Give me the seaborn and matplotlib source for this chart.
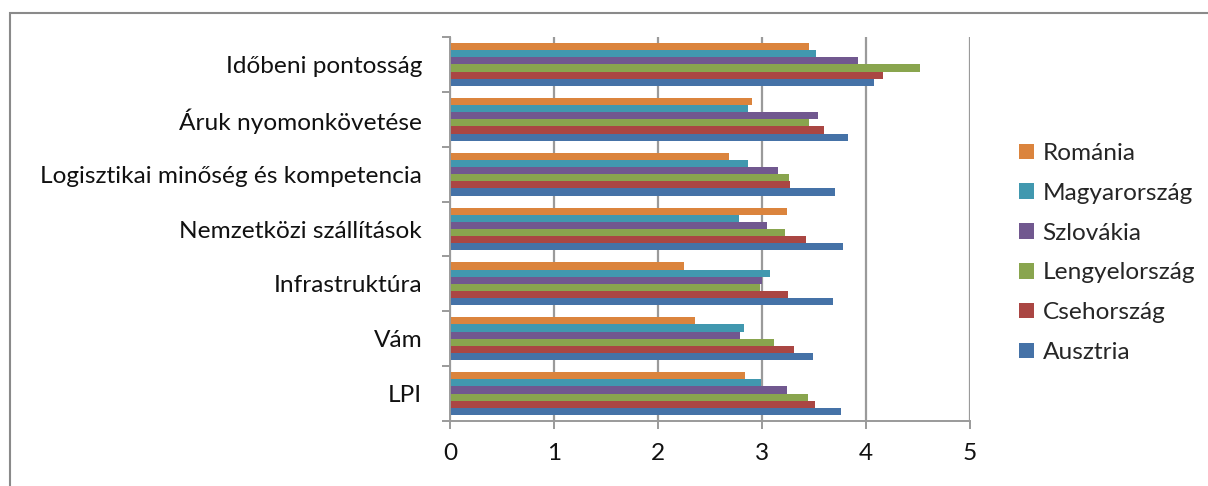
import matplotlib
matplotlib.use("Agg")
import matplotlib.pyplot as plt
import matplotlib.patches as mpatches
from matplotlib.ticker import FixedLocator
import seaborn as sns
import pandas as pd

# LPI component scores per country
categories = [
    "Időbeni pontosság",
    "Áruk nyomonkövetése",
    "Logisztikai minőség és kompetencia",
    "Nemzetközi szállítások",
    "Infrastruktúra",
    "Vám",
    "LPI",
]
countries = ["Románia", "Magyarország", "Szlovákia", "Lengyelország", "Csehország", "Ausztria"]

romania = [3.45, 2.90, 2.68, 3.24, 2.25, 2.36, 2.84]
magyarorszag = [3.52, 2.87, 2.87, 2.78, 3.08, 2.83, 2.99]
szlovakia = [3.92, 3.54, 3.15, 3.05, 3.00, 2.79, 3.24]
lengyelorszag = [4.52, 3.45, 3.26, 3.22, 2.98, 3.12, 3.44]
csehorszag = [4.16, 3.60, 3.27, 3.42, 3.25, 3.31, 3.51]
ausztria = [4.08, 3.83, 3.70, 3.78, 3.68, 3.49, 3.76]

series = [romania, magyarorszag, szlovakia, lengyelorszag, csehorszag, ausztria]
colors = ["#DB843D", "#4198AF", "#71588F", "#89A54E", "#AA4643", "#4572A7"]

rows = []
for country, values in zip(countries, series):
    for cat, v in zip(categories, values):
        rows.append({"kategória": cat, "ország": country, "érték": v})
df = pd.DataFrame(rows)

sns.set_theme(style="white")
plt.rcParams["font.family"] = ["Lato", "DejaVu Sans"]

FS = 17.6
GRAY = "#9A9A9A"

fig = plt.figure(figsize=(12.08, 4.86), dpi=100)
ax = fig.add_axes([450 / 1208, 65 / 486, 520 / 1208, 384 / 486])

sns.barplot(
    data=df, y="kategória", x="érték", hue="ország",
    order=categories, hue_order=countries, palette=colors,
    orient="h", width=0.78, linewidth=0, saturation=1, ax=ax,
    legend=True,
)

ax.set_xlim(0, 5)
ax.set_ylim(len(categories) - 0.5, -0.5)
ax.set_xticks(range(0, 6))
ax.set_xlabel("")
ax.set_ylabel("")

# vertical gridlines
ax.grid(axis="x", color=GRAY, linewidth=1.6)
ax.set_axisbelow(True)

for side in ["top", "right"]:
    ax.spines[side].set_visible(False)
for side in ["left", "bottom"]:
    ax.spines[side].set_color(GRAY)
    ax.spines[side].set_linewidth(1.4)

# category tick marks sit between the groups
ax.yaxis.set_minor_locator(FixedLocator([i - 0.5 for i in range(len(categories) + 1)]))
ax.tick_params(axis="y", which="major", length=0, pad=20, labelsize=FS, labelcolor="#111111")
ax.tick_params(axis="y", which="minor", left=True, length=6, width=1.4, color=GRAY, direction="out")
ax.tick_params(axis="x", which="major", bottom=True, length=6, width=1.4, color=GRAY,
               direction="out", pad=10, labelsize=FS, labelcolor="#111111")

# legend to the right of the plot
handles, labels = ax.get_legend_handles_labels()
ax.legend_.remove()
fig.legend(
    handles, labels, loc="center left",
    bbox_to_anchor=(1019 / 1208, 1 - 253 / 486),
    frameon=False, fontsize=FS, borderpad=0, borderaxespad=0,
    handlelength=0.6, handleheight=0.6, handletextpad=0.36, labelspacing=0.77,
)

# outer chart frame
fig.add_artist(mpatches.Rectangle(
    (10 / 1208, -0.1), 1.2, 1 - 13 / 486 + 0.1,
    transform=fig.transFigure, fill=False, edgecolor="#8A8A8A", linewidth=1.5,
))

fig.savefig("out.png", dpi=100)
